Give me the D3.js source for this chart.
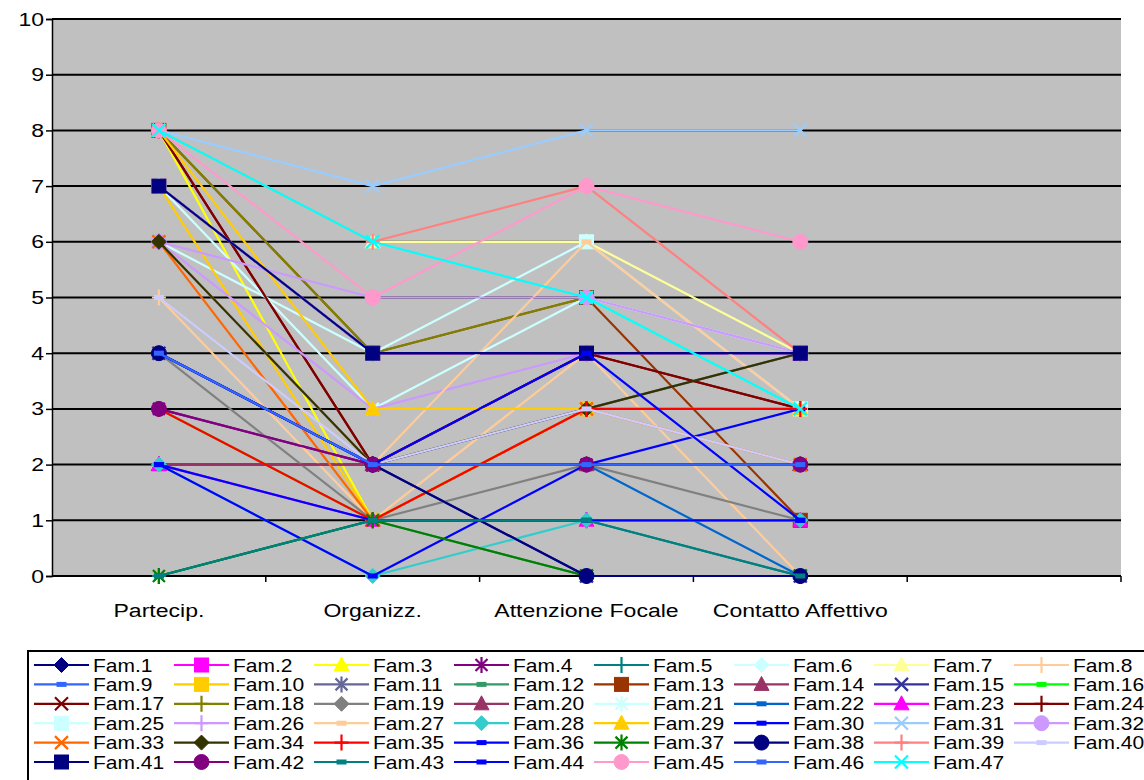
<!DOCTYPE html>
<html>
<head>
<meta charset="utf-8">
<script src="https://cdn.jsdelivr.net/npm/d3@7"></script>
<style>
  html, body { margin: 0; padding: 0; background: #fff; }
  svg { display: block; font-family: "Liberation Sans", Arial, sans-serif; }
</style>
</head>
<body>
<svg id="chart" width="1144" height="780"></svg>
<script>
// Category axis (the last slot is left empty)
const categories = ["Partecip.", "Organizz.", "Attenzione Focale", "Contatto Affettivo", ""];
const yTicks = [0, 1, 2, 3, 4, 5, 6, 7, 8, 9, 10];

// One value per family (Fam.1 … Fam.47) for each of the four scales
const partecip   = [7,7,8,3,0,6,8,5,4,7,6,0,8,2,4,3,8,8,4,2,7,4,2,8,7,6,6,2,8,2,8,6,6,6,3,2,0,4,8,5,7,3,0,4,8,4,8];
const organizz   = [4,4,1,2,1,4,6,1,2,1,2,1,4,2,2,1,2,4,1,2,3,2,1,2,4,3,2,0,3,0,7,5,1,2,1,1,1,2,6,2,4,2,1,2,5,2,6];
const attenzione = [4,4,1,2,1,5,6,4,2,3,3,0,5,2,0,3,4,5,2,2,5,2,1,4,6,4,6,1,3,2,8,5,3,3,3,1,0,0,7,3,4,2,1,4,7,2,5];
const contatto   = [4,4,1,2,0,4,4,0,2,3,4,0,1,2,0,3,3,3,1,2,3,0,1,3,3,4,3,1,3,3,8,4,2,4,3,1,0,0,4,2,4,2,0,1,6,2,3];

const seriesNames = d3.range(1, 48).map(i => "Fam." + i);

// Line / marker colour for each family
const seriesColors = [
  "#000080","#FF00FF","#FFFF00","#800080","#008080","#CCFFFF","#FFFF99","#FFCC99",
  "#3366FF","#FFCC00","#666699","#339966","#993300","#993366","#333399","#00FF00",
  "#800000","#808000","#808080","#993366","#CCFFFF","#0066CC","#FF00FF","#800000",
  "#CCFFFF","#CC99FF","#FFCC99","#33CCCC","#FFCC00","#0000FF","#99CCFF","#CC99FF",
  "#FF6600","#333300","#FF0000","#0000FF","#008000","#000080","#FF8080","#CCCCFF",
  "#000080","#800080","#008080","#0000FF","#FF99CC","#3366FF","#00FFFF"
];
// Marker shape for each family
const seriesMarkers = [
  "diamond","square","triangle","star","plus","diamond","triangle","plus",
  "dash","square","star","dash","square","triangle","x","dash",
  "x","plus","diamond","triangle","star","dash","triangle","plus",
  "square","plus","dash","diamond","triangle","dash","x","circle",
  "x","diamond","plus","dash","star","circle","plus","dash",
  "square","circle","dash","dash","circle","dash","x"
];

const series = seriesNames.map((name, i) => ({
  name,
  color: seriesColors[i],
  marker: seriesMarkers[i],
  values: [partecip[i], organizz[i], attenzione[i], contatto[i]]
}));

const svg = d3.select("#chart");
const plot = { left: 52, right: 1121, top: 19, bottom: 576 };
const AXIS_SX = 1.28;   // glyphs are drawn slightly wide
const LEGEND_SX = 1.2;

const x = d3.scaleBand().domain(categories.map((c, i) => i)).range([plot.left, plot.right]);
const y = d3.scaleLinear().domain([0, 10]).range([plot.bottom, plot.top]);
const cx = i => x(i) + x.bandwidth() / 2;

// Plot area background
svg.append("rect")
  .attr("x", plot.left).attr("y", plot.top)
  .attr("width", plot.right - plot.left).attr("height", plot.bottom - plot.top)
  .attr("fill", "#C0C0C0");

// Horizontal gridlines
svg.append("g").selectAll("line").data(yTicks.filter(d => d > 0)).join("line")
  .attr("x1", plot.left).attr("x2", plot.right)
  .attr("y1", d => y(d)).attr("y2", d => y(d))
  .attr("stroke", "#000").attr("stroke-width", 2);

// Axes
const yAxis = d3.axisLeft(y).tickValues(yTicks).tickSize(6).tickFormat("");
const gy = svg.append("g").attr("transform", `translate(${plot.left},0)`).call(yAxis);
gy.select(".domain").attr("stroke", "#000").attr("stroke-width", 1.5);
gy.selectAll(".tick line").attr("stroke", "#000").attr("stroke-width", 1.5);

svg.append("line")
  .attr("x1", plot.left).attr("x2", plot.right)
  .attr("y1", plot.bottom).attr("y2", plot.bottom)
  .attr("stroke", "#000").attr("stroke-width", 2);

const bounds = categories.map((c, i) => x(i) + x.bandwidth());
svg.append("g").selectAll("line").data(bounds).join("line")
  .attr("x1", d => d).attr("x2", d => d)
  .attr("y1", plot.bottom).attr("y2", plot.bottom + 6)
  .attr("stroke", "#000").attr("stroke-width", 1.5);

function styledText(sel, anchor, size) {
  return sel.attr("font-size", size).attr("fill", "#000").attr("text-anchor", anchor);
}

// Y tick labels
svg.append("g").selectAll("text").data(yTicks).join("text")
  .attr("transform", d => `translate(${plot.left - 8},${y(d) + 6.5}) scale(${AXIS_SX},1)`)
  .call(styledText, "end", 18)
  .text(d => d);

// Category labels
svg.append("g").selectAll("text").data(categories.map((c, i) => i)).join("text")
  .attr("transform", i => `translate(${cx(i)},${plot.bottom + 41}) scale(${AXIS_SX},1)`)
  .call(styledText, "middle", 18)
  .text(i => categories[i]);

// Marker drawing
function drawMarker(g, type, color, px, py) {
  const s = 7.5;
  switch (type) {
    case "diamond":
      g.append("path").attr("d", `M${px},${py - s}L${px + s},${py}L${px},${py + s}L${px - s},${py}Z`)
        .attr("fill", color).attr("stroke", color).attr("stroke-width", 1);
      break;
    case "square":
      g.append("rect").attr("x", px - 7).attr("y", py - 7).attr("width", 14).attr("height", 14)
        .attr("fill", color).attr("stroke", color).attr("stroke-width", 1);
      break;
    case "triangle":
      g.append("path").attr("d", `M${px},${py - 8}L${px + 7.5},${py + 6}L${px - 7.5},${py + 6}Z`)
        .attr("fill", color).attr("stroke", color).attr("stroke-width", 1);
      break;
    case "circle":
      g.append("circle").attr("cx", px).attr("cy", py).attr("r", 7.5)
        .attr("fill", color).attr("stroke", color).attr("stroke-width", 1);
      break;
    case "dash":
      g.append("rect").attr("x", px - 5).attr("y", py - 2.5).attr("width", 10).attr("height", 5)
        .attr("fill", color);
      break;
    case "x":
      g.append("path").attr("d", `M${px - 6.5},${py - 6.5}L${px + 6.5},${py + 6.5}M${px - 6.5},${py + 6.5}L${px + 6.5},${py - 6.5}`)
        .attr("stroke", color).attr("stroke-width", 2.2).attr("fill", "none");
      break;
    case "star":
      g.append("path").attr("d", `M${px - 6},${py - 6}L${px + 6},${py + 6}M${px - 6},${py + 6}L${px + 6},${py - 6}M${px},${py - 8}L${px},${py + 8}`)
        .attr("stroke", color).attr("stroke-width", 2.2).attr("fill", "none");
      break;
    case "plus":
      g.append("path").attr("d", `M${px},${py - 8}L${px},${py + 8}M${px - 7},${py}L${px + 7},${py}`)
        .attr("stroke", color).attr("stroke-width", 2.2).attr("fill", "none");
      break;
  }
}

// Series: each family draws its line, then its markers
const line = d3.line().x((d, i) => cx(i)).y(d => y(d));
const gSeries = svg.append("g");
series.forEach(s => {
  const g = gSeries.append("g");
  g.append("path").attr("d", line(s.values))
    .attr("fill", "none").attr("stroke", s.color).attr("stroke-width", 2.2)
    .attr("stroke-linejoin", "round");
  s.values.forEach((v, i) => drawMarker(g, s.marker, s.color, cx(i), y(v)));
});

// Legend
const legend = svg.append("g");
legend.append("rect").attr("x", 28).attr("y", 651).attr("width", 1140).attr("height", 150)
  .attr("fill", "#fff").attr("stroke", "#000").attr("stroke-width", 2);
const colX = d3.range(8).map(c => 34 + c * 140);
const rowY = d3.range(6).map(r => 665 + r * 19.4);
series.forEach((s, i) => {
  const lx = colX[i % 8], ly = rowY[Math.floor(i / 8)];
  const g = legend.append("g");
  g.append("line").attr("x1", lx).attr("x2", lx + 55).attr("y1", ly).attr("y2", ly)
    .attr("stroke", s.color).attr("stroke-width", 2.2);
  drawMarker(g, s.marker, s.color, lx + 27.5, ly);
  g.append("text")
    .attr("transform", `translate(${lx + 59},${ly + 6.5}) scale(${LEGEND_SX},1)`)
    .call(styledText, "start", 17.5)
    .text(s.name);
});
</script>
</body>
</html>
